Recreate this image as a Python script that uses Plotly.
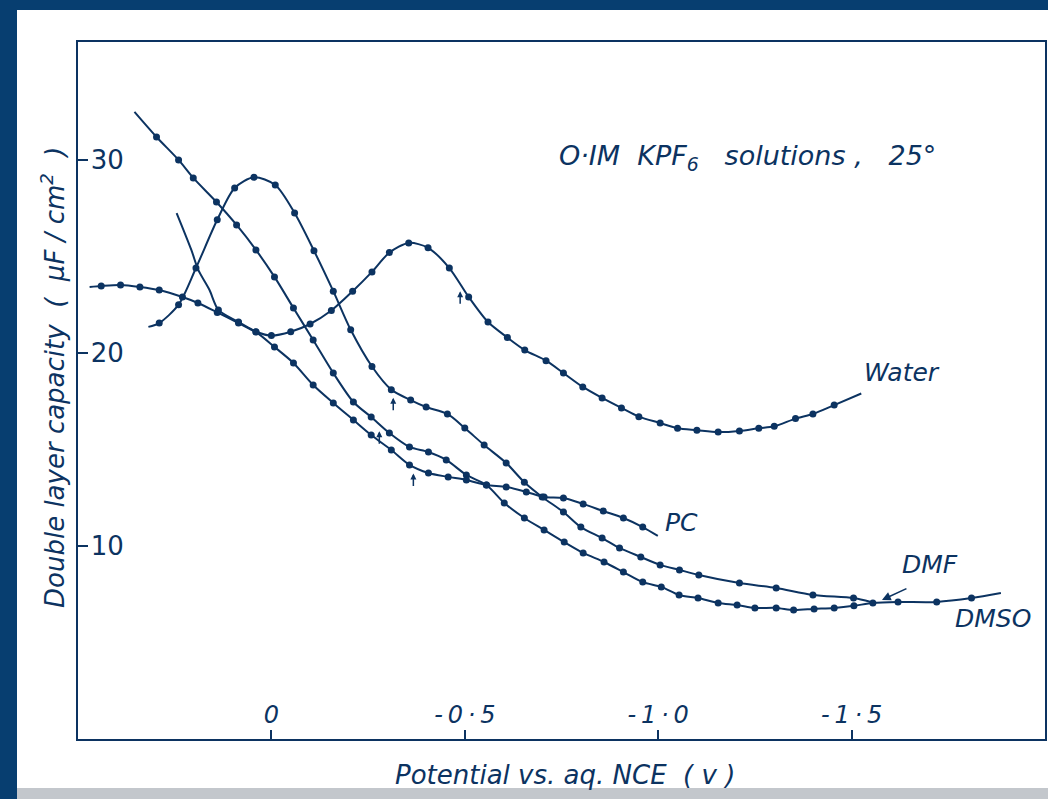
import numpy as np
import plotly.graph_objects as go

# ---- data: potential (V vs aq. NCE) and capacity (uF/cm2)
WATER_V = [0.47, 0.44, 0.39, 0.34, 0.29, 0.23, 0.19, 0.14, 0.085, 0.04,
           0.0, -0.05, -0.10, -0.155, -0.21, -0.26, -0.305, -0.355, -0.405, -0.46,
           -0.51, -0.56, -0.61, -0.655, -0.71, -0.755, -0.805, -0.855, -0.905, -0.95,
           -1.005, -1.05, -1.10, -1.155, -1.21, -1.26, -1.30, -1.355, -1.40, -1.455,
           -1.525]
WATER_C = [23.42, 23.47, 23.52, 23.42, 23.26, 22.9, 22.59, 22.1, 21.55, 21.1,
           20.9, 21.1, 21.5, 22.2, 23.2, 24.2, 25.2, 25.7, 25.45, 24.4,
           22.9, 21.6, 20.8, 20.15, 19.6, 18.96, 18.24, 17.67, 17.15, 16.7,
           16.37, 16.1, 16.0, 15.9, 15.96, 16.1, 16.2, 16.6, 16.84, 17.3,
           17.9]

DMF_V = [0.318, 0.29, 0.24, 0.195, 0.14, 0.095, 0.045, -0.01, -0.06, -0.11,
         -0.16, -0.205, -0.26, -0.31, -0.36, -0.40, -0.455, -0.50, -0.55, -0.607,
         -0.654, -0.70, -0.755, -0.80, -0.855, -0.90, -0.955, -1.005, -1.055, -1.105,
         -1.21, -1.305, -1.40, -1.505, -1.55]
DMF_C = [21.35, 21.55, 22.5, 24.4, 26.9, 28.55, 29.1, 28.7, 27.25, 25.3,
         23.2, 21.2, 19.3, 18.1, 17.56, 17.2, 16.84, 16.11, 15.23, 14.3,
         13.3, 12.54, 11.76, 10.98, 10.41, 9.9, 9.43, 9.02, 8.76, 8.5,
         8.08, 7.82, 7.46, 7.3, 7.1]

DMSO_V = [0.354, 0.297, 0.240, 0.202, 0.142, 0.09, 0.04, -0.008, -0.057, -0.108,
          -0.16, -0.212, -0.258, -0.305, -0.357, -0.406, -0.452, -0.504, -0.556, -0.602,
          -0.654, -0.705, -0.757, -0.806, -0.86, -0.91, -0.96, -1.008, -1.054, -1.103,
          -1.155, -1.204, -1.25, -1.305, -1.35, -1.403, -1.455, -1.506, -1.555, -1.62,
          -1.72, -1.81, -1.886]
DMSO_C = [32.49, 31.19, 30.0, 29.07, 27.82, 26.63, 25.34, 23.94, 22.33, 20.67,
          18.96, 17.46, 16.68, 15.85, 15.13, 14.87, 14.46, 13.68, 13.16, 12.23,
          11.45, 10.83, 10.2, 9.64, 9.17, 8.65, 8.13, 7.88, 7.46, 7.3,
          7.05, 6.94, 6.79, 6.79, 6.68, 6.74, 6.79, 6.9, 7.05, 7.1,
          7.1, 7.3, 7.56]

PC_V = [0.245, 0.207, 0.189, 0.16, 0.137, 0.085, 0.04, -0.008, -0.057, -0.108,
        -0.16, -0.212, -0.258, -0.31, -0.357, -0.406, -0.457, -0.504, -0.556, -0.607,
        -0.659, -0.705, -0.755, -0.806, -0.858, -0.91, -0.96, -0.999]
PC_C = [27.25, 25.34, 24.3, 23.26, 22.23, 21.6, 21.09, 20.31, 19.48, 18.34,
        17.41, 16.53, 15.75, 14.97, 14.2, 13.78, 13.58, 13.42, 13.16, 13.06,
        12.8, 12.54, 12.49, 12.18, 11.81, 11.45, 10.98, 10.52]

# potentials marked with small arrows on each curve
MARK_V = {"Water": -0.488, "DMF": -0.315, "PC": -0.367, "DMSO": -0.279}

X_TICKS = [0, -0.5, -1.0, -1.5]
X_TICKTEXT = ["0", "-\u20090\u2009·\u20095", "-\u20091\u2009·\u20090", "-\u20091\u2009·\u20095"]
Y_TICKS = [10, 20, 30]
Y_TICKTEXT = ["10", "20", "30"]

# ---- style
INK = "#0c3361"
FRAME = "#073e70"
FONT = "DejaVu Sans"

series = {
    "Water": (WATER_V, WATER_C, 1),
    "DMF": (DMF_V, DMF_C, 1),
    "DMSO": (DMSO_V, DMSO_C, 1),
    "PC": (PC_V, PC_C, 4),   # first points of PC drawn as a plain line
}

fig = go.Figure()
for name, (v, c, first_dot) in series.items():
    fig.add_trace(go.Scatter(x=v, y=c, mode="lines", name=name,
                             line=dict(color=INK, width=2, shape="spline", smoothing=0.8),
                             hoverinfo="skip", showlegend=False))
    fig.add_trace(go.Scatter(x=v[first_dot:-1], y=c[first_dot:-1], mode="markers", name=name,
                             marker=dict(color=INK, size=7, symbol="circle"),
                             showlegend=False))

# plot-area geometry in pixels (for paper-coordinate conversion)
W, H = 1048, 799
L, R, T, B = 78, 3, 42, 60
PW, PH = W - L - R, H - T - B
def px(xp):
    return (xp - L) / PW
def py(yp):
    return (H - B - yp) / PH

shapes = [
    dict(type="rect", xref="paper", yref="paper", x0=px(17), x1=px(1052), y0=py(788), y1=py(10),
         fillcolor="white", line=dict(width=0), layer="below"),
    dict(type="rect", xref="paper", yref="paper", x0=px(17), x1=px(1052), y0=py(800), y1=py(788),
         fillcolor="#c3c7cc", line=dict(width=0), layer="below"),
]

def f(size, style="italic"):
    return dict(family=FONT, size=size, color=INK, style=style)

NB = "\u00a0"
annotations = [
    dict(text=f"Double layer capacity{NB} ({NB} μF{NB}/{NB}cm<sup>2</sup>{NB} )", xref="paper", yref="paper",
         x=px(53), y=py(377), xanchor="center", yanchor="middle", textangle=-90,
         showarrow=False, font=f(26)),
    dict(text=f"Potential vs. aq. NCE{NB} ( v )", xref="paper", yref="paper",
         x=px(565), y=py(775), xanchor="center", yanchor="middle", showarrow=False, font=f(26)),
    dict(text=f"O·IM{NB} KPF<sub>6</sub>{NB}{NB} solutions ,{NB}{NB} 25°", xref="paper", yref="paper",
         x=px(747), y=py(158), xanchor="center", yanchor="middle", showarrow=False, font=f(27)),
    dict(text="Water", x=WATER_V[-1], y=WATER_C[-1], xanchor="left", yanchor="middle",
         xshift=1, yshift=21, showarrow=False, font=f(25)),
    dict(text="PC", x=PC_V[-1], y=PC_C[-1], xanchor="left", yanchor="middle",
         xshift=5, yshift=13, showarrow=False, font=f(25)),
    dict(text="DMF", x=DMF_V[-1], y=DMF_C[-1], xanchor="left", yanchor="middle",
         xshift=29, yshift=37, showarrow=False, font=f(25)),
    dict(text="", x=DMF_V[-1], y=DMF_C[-1], xshift=11, yshift=2, showarrow=True,
         ax=26, ay=-12, arrowhead=2, arrowsize=1.1, arrowwidth=1.6, arrowcolor=INK),
    dict(text="DMSO", x=DMSO_V[-1], y=DMSO_C[-1], xanchor="center", yanchor="middle",
         xshift=-8, yshift=-25, showarrow=False, font=f(25)),
]
for name, vm in MARK_V.items():
    v, c, _ = series[name]
    cm = float(np.interp(vm, v[::-1], c[::-1]))
    annotations.append(dict(text="", x=vm, y=cm, yshift=-7, showarrow=True, ax=0, ay=14,
                            arrowhead=2, arrowsize=0.8, arrowwidth=1.5, arrowcolor=INK))

fig.update_layout(
    width=W, height=H,
    margin=dict(l=L, r=R, t=T, b=B, autoexpand=False),
    paper_bgcolor=FRAME, plot_bgcolor="white",
    shapes=shapes, annotations=annotations,
    xaxis=dict(range=[0.5, -2.0], showgrid=False, zeroline=False,
               showline=True, mirror=True, linecolor=INK, linewidth=2,
               ticks="inside", ticklen=9, tickwidth=1.5, tickcolor=INK,
               tickvals=X_TICKS, ticktext=X_TICKTEXT, ticklabelposition="inside",
               ticklabelstandoff=4, tickfont=f(24)),
    yaxis=dict(range=[0, 36.11], showgrid=False, zeroline=False,
               showline=True, mirror=True, linecolor=INK, linewidth=2,
               ticks="inside", ticklen=10, tickwidth=1.5, tickcolor=INK,
               tickvals=Y_TICKS, ticktext=Y_TICKTEXT, ticklabelposition="inside",
               ticklabelstandoff=5, tickfont=dict(family=FONT, size=26, color=INK)),
)

fig.write_html("out.html")
